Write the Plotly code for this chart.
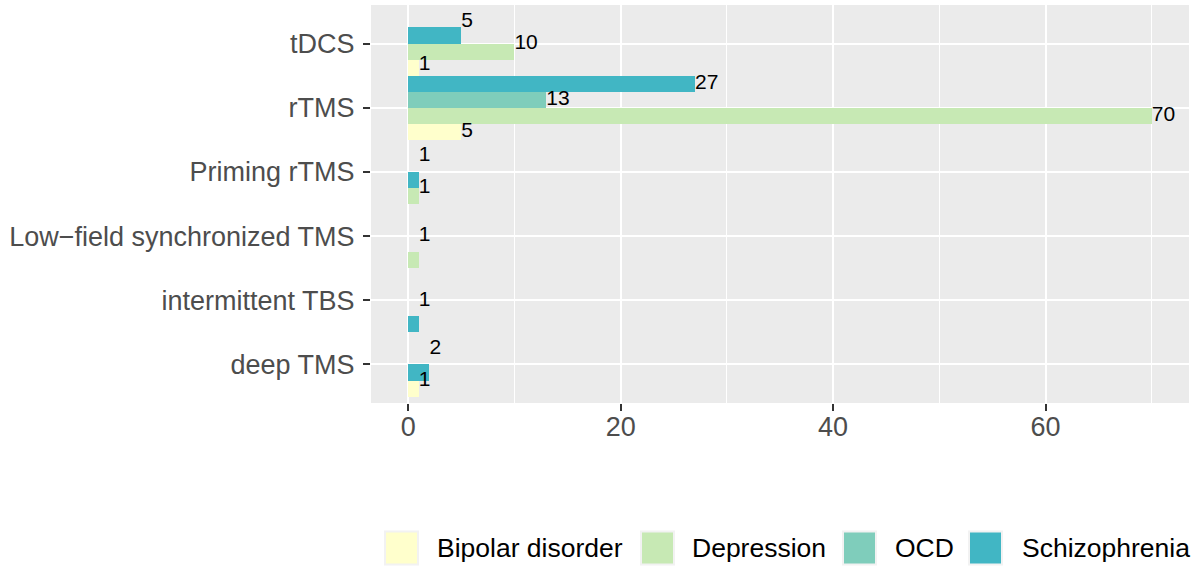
import plotly.graph_objects as go

# ---- data (bottom to top order on the axis) ----
categories = ["deep TMS", "intermittent TBS", "Low\u2212field synchronized TMS",
              "Priming rTMS", "rTMS", "tDCS"]
series_names = ["Bipolar disorder", "Depression", "OCD", "Schizophrenia"]
bipolar = [1, None, None, None, 5, 1]
depression = [None, None, 1, 1, 70, 10]
ocd = [None, None, None, None, 13, None]
schizophrenia = [2, 1, None, 1, 27, 5]
x_ticks = [0, 20, 40, 60]
x_minor = [10, 30, 50, 70]

colors = ["#FFFFCC", "#C7E9B4", "#7FCDBB", "#41B6C4"]
all_series = [bipolar, depression, ocd, schizophrenia]

# ---- layout geometry (pixels) ----
W, H = 1199, 568
L, R, T, B = 371, 10, 5, 165
pw, ph = W - L - R, H - T - B

def px_x(p):
    return (p - L) / pw

def px_y(p):
    return (H - B - p) / ph

fig = go.Figure()

# dodge positions: bars stacked from the bottom slot (preserve single),
# labels dodged evenly across the category width
slot = 1.0 / len(series_names)
bar_pos = {s: ([], []) for s in range(len(series_names))}
txt_pos = {s: ([], []) for s in range(len(series_names))}
for i, _ in enumerate(categories):
    present = [s for s in range(len(series_names)) if all_series[s][i] is not None]
    n = len(present)
    for k, s in enumerate(present):
        v = all_series[s][i]
        bar_pos[s][0].append(i - 0.5 + slot / 2 + slot * k)
        bar_pos[s][1].append(v)
        txt_pos[s][0].append(i + (k - (n - 1) / 2) / n)
        txt_pos[s][1].append(v)

for s, name in enumerate(series_names):
    fig.add_trace(go.Bar(
        y=bar_pos[s][0], x=bar_pos[s][1], orientation="h", width=slot,
        marker=dict(color=colors[s], line=dict(width=0)),
        name=name, showlegend=False,
    ))
for s, name in enumerate(series_names):
    fig.add_trace(go.Scatter(
        y=txt_pos[s][0], x=txt_pos[s][1], mode="text",
        text=[str(v) for v in txt_pos[s][1]], textposition="middle right",
        textfont=dict(family="Liberation Sans, Arial, sans-serif", size=21, color="black"),
        showlegend=False, hoverinfo="skip",
    ))

fig.update_layout(
    width=W, height=H,
    margin=dict(l=L, r=R, t=T, b=B, pad=0),
    paper_bgcolor="white", plot_bgcolor="#EBEBEB",
    barmode="overlay", bargap=0,
    font=dict(family="Liberation Sans, Arial, sans-serif"),
    showlegend=False,
)
fig.update_xaxes(
    range=[-3.5, 73.5], tickvals=x_ticks, ticktext=[str(v) for v in x_ticks],
    showgrid=True, gridcolor="white", gridwidth=2.4, zeroline=False,
    ticks="outside", ticklen=7, tickwidth=2, tickcolor="#333333",
    tickfont=dict(size=27, color="#4D4D4D"), showline=False,
    ticklabelstandoff=-7,
    minor=dict(tickvals=x_minor, showgrid=True, gridcolor="white", gridwidth=1.2, ticks=""),
)
fig.update_yaxes(
    range=[-0.6, 5.6], tickvals=list(range(len(categories))), ticktext=categories,
    showgrid=True, gridcolor="white", gridwidth=2.4, zeroline=False,
    ticks="outside", ticklen=7, tickwidth=2, tickcolor="#333333",
    tickfont=dict(size=27, color="#4D4D4D"), showline=False,
    ticklabelstandoff=3,
)

# ---- legend (drawn manually to reproduce the large square keys) ----
key_x = [385, 641, 843, 969]
text_x = [435, 690, 893, 1020]
key_size = 33
leg_cy = 548
shapes = []
annotations = []
for s, name in enumerate(series_names):
    shapes.append(dict(
        type="rect", xref="paper", yref="paper",
        x0=px_x(key_x[s]), x1=px_x(key_x[s] + key_size),
        y0=px_y(leg_cy + key_size / 2), y1=px_y(leg_cy - key_size / 2),
        fillcolor=colors[s], line=dict(color="#F2F2F2", width=2),
    ))
    annotations.append(dict(
        xref="paper", yref="paper", x=px_x(text_x[s]), y=px_y(leg_cy),
        xanchor="left", yanchor="middle", text=name, showarrow=False,
        font=dict(size=26.5, color="black"),
    ))
fig.update_layout(shapes=shapes, annotations=annotations)

fig.write_html("out.html", config={"displayModeBar": False},
               post_script="document.body.style.margin='0';document.body.style.overflow='hidden';")
